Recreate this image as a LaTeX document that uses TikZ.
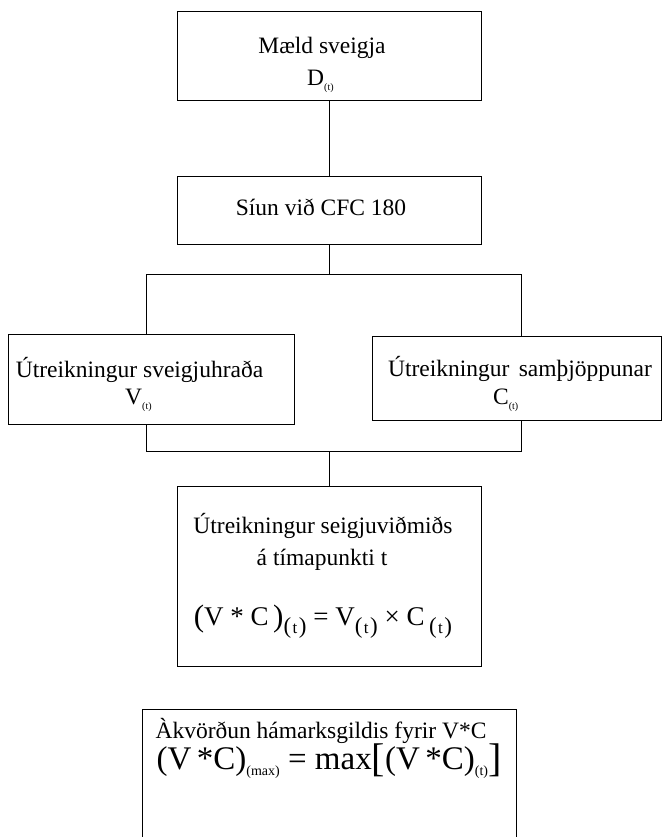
\documentclass[tikz,border=0pt]{standalone}
\usepackage{fontspec}
\setmainfont{Liberation Serif}
\newcommand{\fsz}[1]{\fontsize{#1}{#1}\selectfont}
\newcommand{\smallsub}{\raisebox{-5pt}{\fsz{10}(t)}}
\newcommand{\eqsub}{\raisebox{-8pt}{\fsz{23}(\kern1.5pt{\fsz{17}t}\kern1.5pt)}}
\newcommand{\bigpar}[1]{\raisebox{-1.5pt}{\fsz{31}#1}}
\begin{document}
\begin{tikzpicture}[x=1pt,y=-1pt,
  box/.style={draw=black, line width=0.9pt, inner sep=0pt, rectangle},
  lbl/.style={anchor=base, inner sep=0pt, font=\fsz{23.5}},
  link/.style={draw=black, line width=0.9pt}]
\useasboundingbox (0,0) rectangle (666,837);

% boxes
\node[box, minimum width=304pt, minimum height=89pt] (b1) at (329,55.5) {};
\node[box, minimum width=304pt, minimum height=68pt] (b2) at (329,210) {};
\node[box, minimum width=286pt, minimum height=90pt] (bl) at (151,379) {};
\node[box, minimum width=289pt, minimum height=84pt] (br) at (516.5,378) {};
\node[box, minimum width=304pt, minimum height=180pt] (b4) at (329,576) {};
\node[box, minimum width=374pt, minimum height=140pt] (b5) at (329,779) {};

% texts
\node[lbl] (t1a) at (322,54) {Mæld sveigja};
\node[lbl, anchor=base west] (t1b) at (307,86) {D\smallsub};
\node[lbl] (t2) at (321,215) {Síun við CFC 180};
\node[lbl] (tla) at (139.5,377) {Útreikningur sveigjuhraða};
\node[lbl, anchor=base west] (tlb) at (125,404) {V\smallsub};
\node[lbl] (tra) at (520,376) {Útreikningur\hspace{0.4em}samþjöppunar};
\node[lbl, anchor=base west] (trb) at (493,404) {C\smallsub};
\node[lbl] (t4a) at (323,533) {Útreikningur seigjuviðmiðs};
\node[lbl] (t4b) at (322,565) {á tímapunkti t};
\node[anchor=base, inner sep=0pt] (t4c) at (323,625)
  {\fsz{27}\bigpar{(}V * C\,\bigpar{)}\eqsub\ = V\eqsub\ × C\,\eqsub};
\node[lbl] (t5a) at (321,738) {Àkvörðun hámarksgildis fyrir V*C};
\node[anchor=base, inner sep=0pt] (t5b) at (329,769)
  {\fsz{33}(V\,*C)\raisebox{-6pt}{\fsz{14}(max)} = max\raisebox{-2pt}{\fsz{40}[}(V\,*C)\raisebox{-6pt}{\fsz{14}(t)}\raisebox{-2pt}{\fsz{40}]}};

% connectors
\coordinate (j1) at (329,274);
\coordinate (j1l) at (146,274);
\coordinate (j1r) at (521,274);
\coordinate (j2l) at (146,451);
\coordinate (j2r) at (521,451);
\coordinate (j2m) at (329,451);

\draw[link] (b1.south) -- (b2.north);
\draw[link] (b2.south) -- (j1);
\draw[link] (j1l) -- (j1r);
\draw[link] (j1l) -- (j1l |- bl.north);
\draw[link] (j1r) -- (j1r |- br.north);
\draw[link] (j2l |- bl.south) -- (j2l) -- (j2r) -- (j2r |- br.south);
\draw[link] (j2m) -- (b4.north);
\end{tikzpicture}
\end{document}
